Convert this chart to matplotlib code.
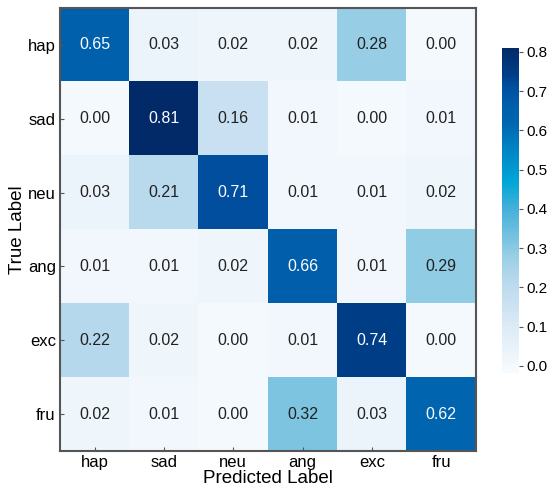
import numpy as np
import matplotlib
matplotlib.use("Agg")
import matplotlib.pyplot as plt
from matplotlib.colors import LinearSegmentedColormap

plt.rcParams["font.family"] = ["Liberation Sans", "DejaVu Sans"]

labels = ["hap", "sad", "neu", "ang", "exc", "fru"]
matrix = np.array([
    [0.65, 0.03, 0.02, 0.02, 0.28, 0.00],
    [0.00, 0.81, 0.16, 0.01, 0.00, 0.01],
    [0.03, 0.21, 0.71, 0.01, 0.01, 0.02],
    [0.01, 0.01, 0.02, 0.66, 0.01, 0.29],
    [0.22, 0.02, 0.00, 0.01, 0.74, 0.00],
    [0.02, 0.01, 0.00, 0.32, 0.03, 0.62],
])
cbar_ticks = [0.0, 0.1, 0.2, 0.3, 0.4, 0.5, 0.6, 0.7, 0.8]

vmin, vmax = -0.018, 0.81
# colour stops, in data units
stops = [
    (-0.018, "#f7fbff"),
    (0.00, "#f3f9fd"),
    (0.03, "#ecf4fb"),
    (0.10, "#dcebf6"),
    (0.16, "#c9e1f2"),
    (0.22, "#b6d8ec"),
    (0.28, "#98cfe6"),
    (0.32, "#7cc4e0"),
    (0.40, "#45b0da"),
    (0.47, "#00a6d6"),
    (0.55, "#0085c6"),
    (0.62, "#0065b0"),
    (0.66, "#005fab"),
    (0.71, "#0050a0"),
    (0.74, "#003e88"),
    (0.81, "#022a68"),
]
cmap = LinearSegmentedColormap.from_list(
    "cm_blue", [((v - vmin) / (vmax - vmin), c) for v, c in stops])

fig = plt.figure(figsize=(5.5, 4.94), dpi=100)
ax = fig.add_axes([60 / 550, 1 - 451 / 494, 416 / 550, 443 / 494])
cax = fig.add_axes([502 / 550, 1 - 373 / 494, 17 / 550, 325 / 494])

im = ax.imshow(matrix, cmap=cmap, vmin=vmin, vmax=vmax, aspect="auto")

for i in range(len(labels)):
    for j in range(len(labels)):
        v = matrix[i, j]
        ax.text(j, i, f"{v:.2f}", ha="center", va="center", fontsize=11.5,
                color="white" if v > 0.5 else "#222222")

ax.set_xticks(range(len(labels)))
ax.set_yticks(range(len(labels)))
ax.set_xticklabels(labels, fontsize=12)
ax.set_yticklabels(labels, fontsize=12)
ax.tick_params(direction="in", length=3, width=0.8, color="#555555", pad=3)
ax.set_xlabel("Predicted Label", fontsize=13.5, labelpad=0)
ax.set_ylabel("True Label", fontsize=13.5, labelpad=1)
for spine in ax.spines.values():
    spine.set_color("#555555")
    spine.set_linewidth(1.5)

cb = fig.colorbar(im, cax=cax, ticks=cbar_ticks)
cb.outline.set_visible(False)
cb.ax.tick_params(labelsize=11, length=3, width=0.8, color="#555555", pad=2)
cb.ax.set_yticklabels([f"{t:.1f}" for t in cbar_ticks])

fig.savefig("out.png", dpi=100)
